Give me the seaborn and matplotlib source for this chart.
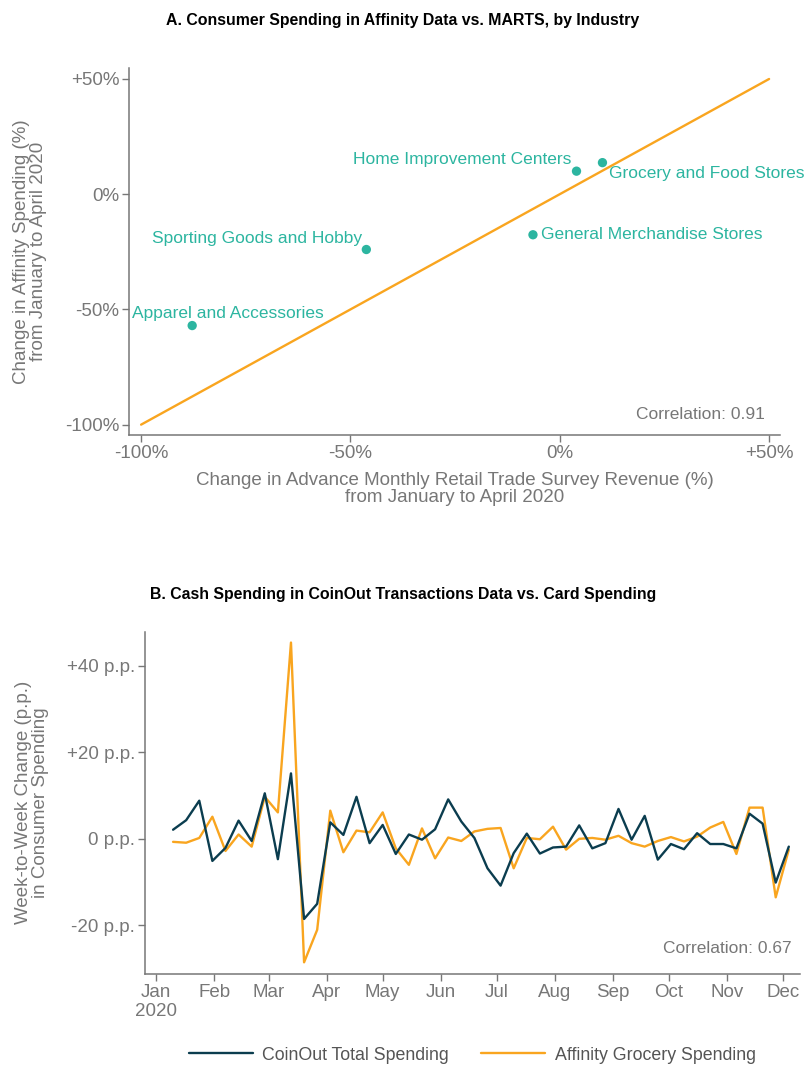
import seaborn as sns
import matplotlib.pyplot as plt
import pandas as pd

# panel A data: change Jan -> Apr 2020 (%)
industries = ['Apparel and Accessories', 'Sporting Goods and Hobby', 'General Merchandise Stores',
              'Home Improvement Centers', 'Grocery and Food Stores']
marts_change = [-87.8, -46.2, -6.4, 4.0, 10.2]
affinity_change = [-57.0, -24.0, -17.6, 10.0, 13.7]
fit_x = [-100, 50]
fit_y = [-100, 50]
pct_ticks = [-100, -50, 0, 50]
pct_labels = ['-100%', '-50%', '0%', '+50%']

# panel B data: weekly change in consumer spending (p.p.)
week_start = '2020-01-10'
coinout_total = [2.1, 4.3, 8.8, -5.1, -2.1, 4.2, -0.5, 10.5, -4.7, 15.1, -18.5, -15.0,
                 3.8, 0.9, 9.7, -1.0, 3.2, -3.5, 1.0, -0.2, 2.2, 9.1, 4.0, 0.2,
                 -6.8, -10.8, -3.3, 1.2, -3.4, -2.0, -1.8, 3.1, -2.2, -1.0, 6.9, -0.2,
                 5.3, -4.8, -1.2, -2.4, 1.3, -1.2, -1.2, -2.2, 5.8, 3.5, -10.1, -1.8]
affinity_grocery = [-0.7, -0.9, 0.2, 5.1, -2.8, 1.0, -1.8, 9.7, 6.1, 45.3, -28.5, -21.0,
                    6.5, -3.1, 1.9, 1.5, 6.1, -2.2, -6.0, 2.4, -4.5, 0.3, -0.5, 1.7,
                    2.3, 2.5, -6.8, 0.2, -0.1, 2.8, -2.5, 0.0, 0.2, -0.2, 0.7, -1.0,
                    -1.8, -0.5, 0.4, -0.6, 0.5, 2.6, 3.9, -3.5, 7.2, 7.2, -13.5, -2.5]
pp_ticks = [-20, 0, 20, 40]
pp_labels = ['-20 p.p.', '0 p.p.', '+20 p.p.', '+40 p.p.']
month_starts = pd.date_range('2020-01-01', '2020-12-01', freq='MS')
month_labels = ['Jan\n2020', 'Feb', 'Mar', 'Apr', 'May', 'Jun', 'Jul', 'Aug', 'Sep', 'Oct', 'Nov', 'Dec']

teal = '#2cb5a0'
orange = '#f9a51f'
navy = '#0b3d4f'
gray = '#777777'

sns.set_theme(style='white')
plt.rcParams['font.family'] = ['Liberation Sans', 'DejaVu Sans']
plt.rcParams['axes.edgecolor'] = gray
plt.rcParams['xtick.color'] = gray
plt.rcParams['ytick.color'] = gray

fig = plt.figure(figsize=(8.06, 10.66), dpi=100)
ax1 = fig.add_axes([0.160, 0.5917, 0.8077, 0.3448])
ax2 = fig.add_axes([0.1799, 0.0863, 0.8127, 0.3211])

# ---- panel A ----
sns.lineplot(x=fit_x, y=fit_y, color=orange, linewidth=1.7, ax=ax1)
df_a = pd.DataFrame({'industry': industries, 'marts': marts_change, 'affinity': affinity_change})
sns.scatterplot(data=df_a, x='marts', y='affinity', color=teal, s=45, edgecolor='none', ax=ax1, zorder=3)

offsets = {
    'Apparel and Accessories': (26, 9, 'center'),
    'Sporting Goods and Hobby': (-3, 8, 'right'),
    'General Merchandise Stores': (5.5, 0, 'left'),
    'Home Improvement Centers': (-3.4, 8.6, 'right'),
    'Grocery and Food Stores': (4.8, -7.6, 'left'),
}
for name, xv, yv in zip(industries, marts_change, affinity_change):
    dx, dy, ha = offsets[name]
    ax1.annotate(name, (xv, yv), xytext=(dx, dy), textcoords='offset points',
                 ha=ha, va='center', color=teal, fontsize=12.5)

ax1.set_xlim(-102.9, 52.6)
ax1.set_ylim(-104.6, 54.9)
ax1.set_xticks(pct_ticks)
ax1.set_xticklabels(pct_labels)
ax1.set_yticks(pct_ticks)
ax1.set_yticklabels(pct_labels)
ax1.set_xlabel('Change in Advance Monthly Retail Trade Survey Revenue (%)\nfrom January to April 2020',
               color=gray, fontsize=13.5, linespacing=1.0, labelpad=7.5)
ax1.set_ylabel('Change in Affinity Spending (%)\nfrom January to April 2020',
               color=gray, fontsize=13.5, linespacing=1.0, labelpad=13)
ax1.text(0.977, 0.057, 'Correlation: 0.91', transform=ax1.transAxes, ha='right', va='center',
         color=gray, fontsize=12.5)

# ---- panel B ----
weeks = pd.date_range(week_start, periods=len(coinout_total), freq='7D')
df_b = pd.concat([
    pd.DataFrame({'week': weeks, 'change': coinout_total, 'series': 'CoinOut Total Spending'}),
    pd.DataFrame({'week': weeks, 'change': affinity_grocery, 'series': 'Affinity Grocery Spending'}),
])
sns.lineplot(data=df_b, x='week', y='change', hue='series',
             palette={'CoinOut Total Spending': navy, 'Affinity Grocery Spending': orange},
             hue_order=['Affinity Grocery Spending', 'CoinOut Total Spending'],
             linewidth=1.7, ax=ax2)
handles, labels = ax2.get_legend_handles_labels()
ax2.get_legend().remove()
order = [labels.index('CoinOut Total Spending'), labels.index('Affinity Grocery Spending')]
fig.legend([handles[i] for i in order], [labels[i] for i in order], loc='center',
           bbox_to_anchor=(0.586, 0.0103), ncol=2, frameon=False, fontsize=12.8,
           handlelength=3.6, handletextpad=0.55, columnspacing=1.8, labelcolor='#555555')

ax2.set_xlim(pd.Timestamp('2019-12-26'), pd.Timestamp('2020-12-10'))
ax2.set_ylim(-31.2, 47.8)
ax2.set_xticks(month_starts)
ax2.set_xticklabels(month_labels)
ax2.set_yticks(pp_ticks)
ax2.set_yticklabels(pp_labels)
ax2.set_xlabel('')
ax2.set_ylabel('Week-to-Week Change (p.p.)\nin Consumer Spending', color=gray, fontsize=13.5,
               linespacing=1.0, labelpad=13)
ax2.text(0.987, 0.075, 'Correlation: 0.67', transform=ax2.transAxes, ha='right', va='center',
         color=gray, fontsize=12.5)

for ax in (ax1, ax2):
    sns.despine(ax=ax)
    ax.tick_params(axis='both', which='major', labelsize=13.5, length=5, width=1,
                   color=gray, labelcolor=gray, pad=2, bottom=True, left=True)
    for side in ('left', 'bottom'):
        ax.spines[side].set_linewidth(1.1)

fig.text(0.5, 1 - 20 / 1066, 'A. Consumer Spending in Affinity Data vs. MARTS, by Industry',
         ha='center', va='center', fontsize=11.4, fontweight='bold', color='black')
fig.text(0.5, 1 - 595 / 1066, 'B. Cash Spending in CoinOut Transactions Data vs. Card Spending',
         ha='center', va='center', fontsize=11.4, fontweight='bold', color='black')

fig.savefig('out.png', dpi=100)
